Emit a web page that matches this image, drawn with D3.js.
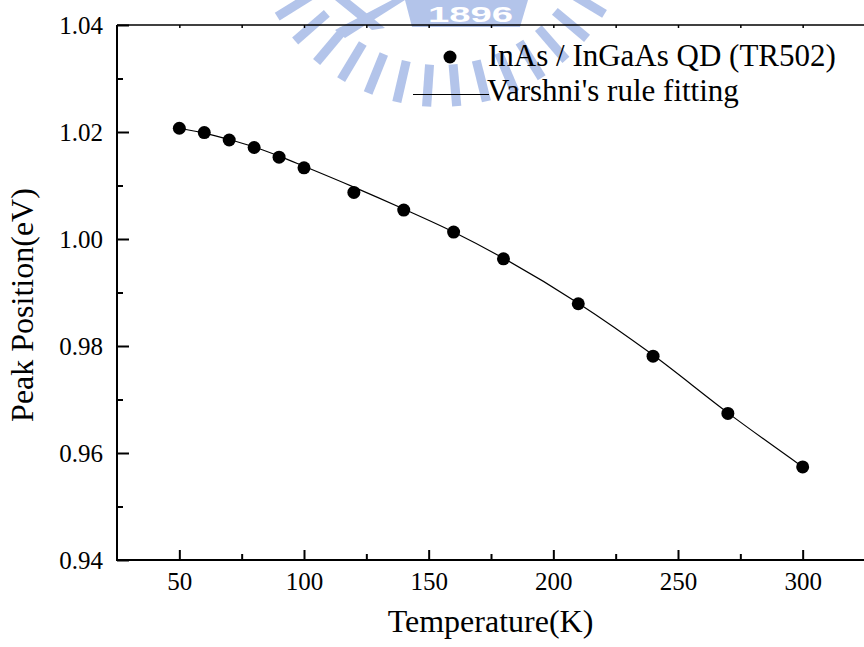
<!DOCTYPE html>
<html>
<head>
<meta charset="utf-8">
<script src="https://cdn.jsdelivr.net/npm/d3@7"></script>
<style>
  body { margin: 0; background: #fff; }
  svg { display: block; }
</style>
</head>
<body>
<div id="chart"></div>
<script>
// Measured peak positions (eV) vs temperature (K)
const temps = [50, 60, 70, 80, 90, 100, 120, 140, 160, 180, 210, 240, 270, 300];
const peaks = [1.0207, 1.0199, 1.0185, 1.0171, 1.0153, 1.0133, 1.0087, 1.0054, 1.0013, 0.9963, 0.9879, 0.9781, 0.9674, 0.9574];

// Varshni fit line
const fitTemps = [50, 60, 70, 80, 90, 100, 120, 140, 160, 180, 210, 240, 270, 300];
const fitPeaks = [1.0207, 1.0198, 1.0186, 1.0172, 1.0155, 1.0136, 1.0097, 1.0056, 1.0013, 0.9964, 0.9880, 0.9783, 0.9675, 0.9574];

const xTicks = [50, 100, 150, 200, 250, 300];
const xMinor = [75, 125, 175, 225, 275];
const xTopTicks = [50, 75, 100, 125, 150, 175, 200, 225, 250, 275, 300];
const yTicks = [0.94, 0.96, 0.98, 1.00, 1.02, 1.04];
const yMinor = [0.95, 0.97, 0.99, 1.01, 1.03];

const legendLabels = ['InAs / InGaAs QD (TR502)', "Varshni's rule fitting"];

const width = 864;
const height = 647;
const margin = { left: 117, top: 25, right: -1, bottom: 87 };
const font = '"Liberation Serif", "Times New Roman", serif';

const svg = d3.select('#chart')
  .append('svg')
  .attr('width', width)
  .attr('height', height);

const x = d3.scaleLinear()
  .domain([25, 325])
  .range([margin.left, width - margin.right]);

const y = d3.scaleLinear()
  .domain([0.94, 1.04])
  .range([height - margin.bottom, margin.top]);

// Faint watermark (school emblem) behind the plot
const mark = svg.append('g').attr('fill', '#b3c4ea');
const cx = 440, cy = -85;
d3.range(22, 162, 9).forEach(a => {
  const r0 = 150, r1 = 192;
  const rad = a * Math.PI / 180, w = 0.03;
  const p = [
    [cx + r0 * Math.cos(rad - w), cy + r0 * Math.sin(rad - w)],
    [cx + r1 * Math.cos(rad - w * 0.8), cy + r1 * Math.sin(rad - w * 0.8)],
    [cx + r1 * Math.cos(rad + w * 0.8), cy + r1 * Math.sin(rad + w * 0.8)],
    [cx + r0 * Math.cos(rad + w), cy + r0 * Math.sin(rad + w)]
  ];
  mark.append('path').attr('d', 'M' + p.join('L') + 'Z');
});
mark.append('path')
  .attr('d', 'M405,0 L528,0 L520,27 L412,27 Z');
mark.append('path')
  .attr('d', 'M335,0 L350,0 L385,28 L372,30 Z M392,0 L405,0 L345,38 L335,30 Z');
mark.append('text')
  .attr('x', 428)
  .attr('y', 22)
  .attr('textLength', 85)
  .attr('lengthAdjust', 'spacingAndGlyphs')
  .attr('fill', '#fff')
  .attr('font-family', 'Arial, sans-serif')
  .attr('font-weight', 'bold')
  .attr('font-size', '22px')
  .text('1896');

// Axes
const bottom = height - margin.bottom;

svg.append('g')
  .attr('transform', `translate(0,${bottom})`)
  .call(d3.axisBottom(x).tickValues(xMinor).tickSize(-6).tickFormat(''))
  .call(g => g.select('.domain').remove())
  .call(g => g.selectAll('line').attr('stroke-width', 2));

svg.append('g')
  .attr('transform', `translate(0,${bottom})`)
  .call(d3.axisBottom(x).tickValues(xTicks).tickSize(-10).tickPadding(12).tickFormat(d3.format('d')))
  .call(g => g.select('.domain').attr('stroke-width', 2).attr('d', `M${margin.left},0H${width + 2}`))
  .call(g => g.selectAll('line').attr('stroke-width', 2))
  .call(g => g.selectAll('text')
    .attr('font-family', font)
    .attr('font-size', '25px')
    .attr('fill', '#000'));

svg.append('g')
  .attr('transform', `translate(0,${margin.top})`)
  .call(d3.axisTop(x).tickValues(xTopTicks).tickSize(-3).tickFormat(''))
  .call(g => g.select('.domain').attr('stroke-width', 1.5).attr('d', `M${margin.left},0H${width + 2}`))
  .call(g => g.selectAll('line').attr('stroke-width', 1.5));

svg.append('g')
  .attr('transform', `translate(${margin.left},0)`)
  .call(d3.axisLeft(y).tickValues(yMinor).tickSize(-6).tickFormat(''))
  .call(g => g.select('.domain').remove())
  .call(g => g.selectAll('line').attr('stroke-width', 2));

svg.append('g')
  .attr('transform', `translate(${margin.left},0)`)
  .call(d3.axisLeft(y).tickValues(yTicks).tickSize(-12).tickPadding(14).tickFormat(d3.format('.2f')))
  .call(g => g.select('.domain').attr('stroke-width', 2).attr('d', `M0,${margin.top}V${bottom + 1}`))
  .call(g => g.selectAll('line').attr('stroke-width', 2))
  .call(g => g.selectAll('text')
    .attr('font-family', font)
    .attr('font-size', '25px')
    .attr('fill', '#000'));

// Axis titles
svg.append('text')
  .attr('x', (margin.left + width) / 2)
  .attr('y', 632)
  .attr('text-anchor', 'middle')
  .attr('font-family', font)
  .attr('font-size', '32px')
  .text('Temperature(K)');

svg.append('text')
  .attr('transform', 'translate(33,305) rotate(-90)')
  .attr('text-anchor', 'middle')
  .attr('font-family', font)
  .attr('font-size', '32px')
  .text('Peak Position(eV)');

// Fit line
const line = d3.line()
  .x((d, i) => x(fitTemps[i]))
  .y(d => y(d))
  .curve(d3.curveMonotoneX);

svg.append('path')
  .datum(fitPeaks)
  .attr('fill', 'none')
  .attr('stroke', '#000')
  .attr('stroke-width', 1.2)
  .attr('d', line);

// Data points
svg.selectAll('.pt')
  .data(peaks)
  .enter()
  .append('circle')
  .attr('class', 'pt')
  .attr('cx', (d, i) => x(temps[i]))
  .attr('cy', d => y(d))
  .attr('r', 6.5)
  .attr('fill', '#000');

// Legend
const legend = svg.append('g')
  .attr('font-family', font)
  .attr('font-size', '31px');

legend.append('circle')
  .attr('cx', 450)
  .attr('cy', 57)
  .attr('r', 6.5)
  .attr('fill', '#000');

legend.append('text')
  .attr('x', 488)
  .attr('y', 66)
  .text(legendLabels[0]);

legend.append('line')
  .attr('x1', 413)
  .attr('x2', 489)
  .attr('y1', 94.5)
  .attr('y2', 94.5)
  .attr('stroke', '#000')
  .attr('stroke-width', 1.2);

legend.append('text')
  .attr('x', 487)
  .attr('y', 101)
  .text(legendLabels[1]);
</script>
</body>
</html>
